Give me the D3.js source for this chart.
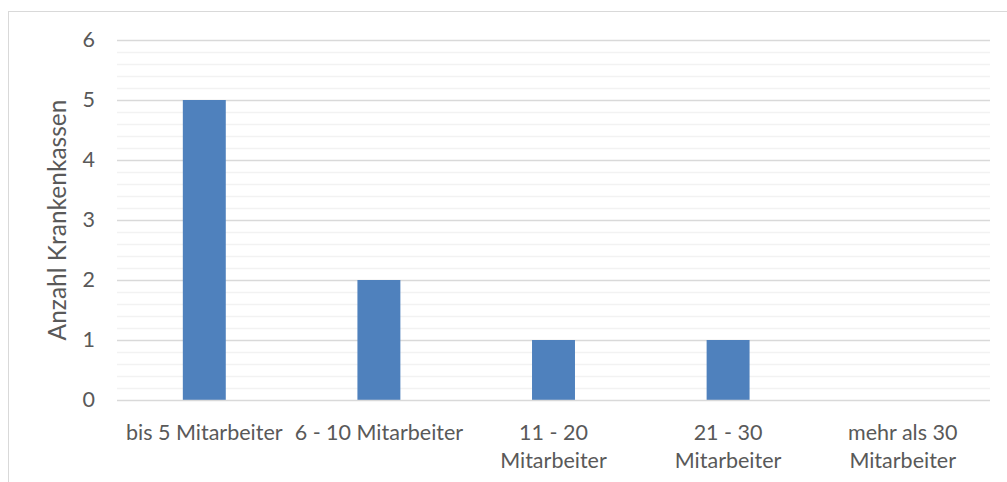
<!DOCTYPE html>
<html>
<head>
<meta charset="utf-8">
<script src="https://cdnjs.cloudflare.com/ajax/libs/d3/7.8.5/d3.min.js"></script>
<style>
html, body { margin: 0; padding: 0; background: #fff; }
svg { display: block; }
text { font-family: Lato, "Open Sans", sans-serif; fill: #595959; }
</style>
</head>
<body>
<svg id="chart" width="1007" height="482"></svg>
<script>
const categories = ["bis 5 Mitarbeiter", "6 - 10 Mitarbeiter", "11 - 20 Mitarbeiter", "21 - 30 Mitarbeiter", "mehr als 30 Mitarbeiter"];
const categoryLines = [["bis 5 Mitarbeiter"], ["6 - 10 Mitarbeiter"], ["11 - 20", "Mitarbeiter"], ["21 - 30", "Mitarbeiter"], ["mehr als 30", "Mitarbeiter"]];
const values = [5, 2, 1, 1, 0];
const yTicks = [0, 1, 2, 3, 4, 5, 6];
const yTitle = "Anzahl Krankenkassen";

const svg = d3.select("#chart");
const pLeft = 117, pRight = 990, pTop = 40, pBottom = 400;
const labelSize = "21.5px", titleSize = "24.5px";

svg.append("rect").attr("x", 8.5).attr("y", 11.5).attr("width", 1010).attr("height", 500)
  .attr("fill", "none").attr("stroke", "#d9d9d9").attr("stroke-width", 1);

const x = d3.scaleBand().domain(categories).range([pLeft, pRight]).paddingInner(0.754).paddingOuter(0.377);
const y = d3.scaleLinear().domain([0, 6]).range([pBottom, pTop]);

const minor = d3.range(0, 6.001, 0.2).filter(v => Math.abs(v - Math.round(v)) > 1e-6);
svg.append("g").selectAll("line").data(minor).join("line")
  .attr("x1", pLeft).attr("x2", pRight)
  .attr("y1", d => Math.round(y(d)) + 0.5).attr("y2", d => Math.round(y(d)) + 0.5)
  .attr("stroke", "#f2f2f2").attr("stroke-width", 1.5);

svg.append("g").selectAll("line").data(yTicks.filter(d => d > 0)).join("line")
  .attr("x1", pLeft).attr("x2", pRight)
  .attr("y1", d => Math.round(y(d)) + 0.5).attr("y2", d => Math.round(y(d)) + 0.5)
  .attr("stroke", "#d9d9d9").attr("stroke-width", 1.5);

svg.append("g").selectAll("rect").data(values).join("rect")
  .attr("x", (d, i) => x(categories[i]))
  .attr("width", x.bandwidth())
  .attr("y", d => y(d))
  .attr("height", d => y(0) - y(d))
  .attr("fill", "#4f81bd");

svg.append("line").attr("x1", pLeft).attr("x2", pRight).attr("y1", pBottom + 0.5).attr("y2", pBottom + 0.5)
  .attr("stroke", "#d9d9d9").attr("stroke-width", 1.5);

const yAxis = d3.axisLeft(y).tickValues(yTicks).tickSize(0).tickPadding(22).tickFormat(d3.format("d"));
const gy = svg.append("g").attr("transform", `translate(${pLeft},0)`).call(yAxis);
gy.select(".domain").remove();
gy.selectAll("text").style("font-size", labelSize).attr("fill", "#595959").style("font-family", "Lato, sans-serif");

const gx = svg.append("g");
categories.forEach((c, i) => {
  const cx = x(c) + x.bandwidth() / 2;
  const t = gx.append("text").attr("text-anchor", "middle").attr("x", cx).attr("y", 440).style("font-size", labelSize);
  categoryLines[i].forEach((ln, j) => {
    t.append("tspan").attr("x", cx).attr("y", 440 + j * 28).text(ln);
  });
});

svg.append("text").attr("transform", `translate(66,220) rotate(-90)`)
  .attr("text-anchor", "middle").style("font-size", titleSize).text(yTitle);
</script>
</body>
</html>
